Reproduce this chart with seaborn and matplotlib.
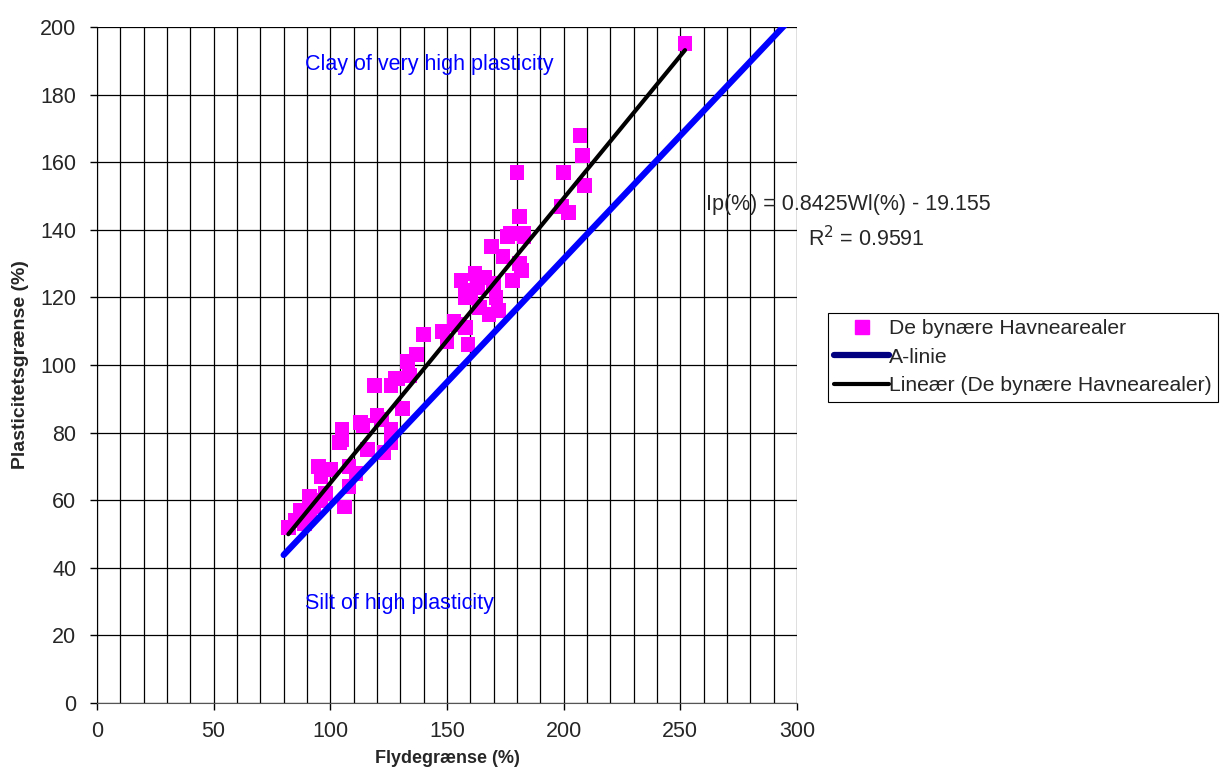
import numpy as np
import pandas as pd
import matplotlib
matplotlib.use('Agg')
import matplotlib.pyplot as plt
from matplotlib.lines import Line2D
from matplotlib.ticker import MultipleLocator
import seaborn as sns

# data
flydegraense = [252, 207, 208, 209, 200, 199, 202, 180, 181, 183, 176, 169, 174, 181, 182,
                178, 162, 156, 158, 170, 158, 164, 172, 168, 154, 148, 140, 158, 159, 150,
                137, 133, 134, 119, 126, 129, 131, 120, 113, 122, 126, 105, 105, 116, 126,
                114, 104, 123, 95, 100, 108, 111, 108, 96, 91, 98, 106, 87, 91, 82,
                89, 166, 160, 163, 171, 128, 85, 93, 96, 177, 183, 153]
plasticitet = [195, 168, 162, 153, 157, 147, 145, 157, 144, 139, 138, 135, 132, 130, 128,
               125, 127, 125, 122, 124, 120, 117, 116, 115, 112, 110, 109, 111, 106, 107,
               103, 101, 97, 94, 94, 96, 87, 85, 83, 84, 81, 81, 78, 75, 77,
               82, 77, 74, 70, 69, 70, 68, 64, 67, 61, 62, 58, 57, 56, 52,
               53, 126, 121, 123, 120, 96, 54, 58, 60, 139, 138, 113]

trend_slope = 0.8425
trend_intercept = -19.155
r2 = 0.9591

# A-line: Ip = 0.73 (wl - 20)
a_line_wl = [80, 300]
a_line_factor = 0.73
a_line_offset = 20

df = pd.DataFrame({'wl': flydegraense, 'ip': plasticitet})

sns.set_style('white')
plt.rcParams['font.family'] = ['Liberation Sans', 'DejaVu Sans']

fs = 15.5

fig = plt.figure(figsize=(12.2, 7.8), dpi=100)
ax = fig.add_axes([97 / 1220, 77 / 780, 700 / 1220, 676 / 780])

sns.scatterplot(data=df, x='wl', y='ip', marker='s', s=115, color='#FF00FF',
                edgecolor='none', linewidth=0, ax=ax, zorder=3, legend=False)

a_df = pd.DataFrame({'wl': a_line_wl})
a_df['ip'] = a_line_factor * (a_df['wl'] - a_line_offset)
sns.lineplot(data=a_df, x='wl', y='ip', color='#0000FF', linewidth=4.5, ax=ax,
             zorder=4, solid_capstyle='round')

t_df = pd.DataFrame({'wl': [df['wl'].min(), df['wl'].max()]})
t_df['ip'] = trend_slope * t_df['wl'] + trend_intercept
sns.lineplot(data=t_df, x='wl', y='ip', color='black', linewidth=3, ax=ax,
             zorder=5, solid_capstyle='round')

ax.set_xlim(0, 300)
ax.set_ylim(0, 200)
ax.xaxis.set_major_locator(MultipleLocator(50))
ax.xaxis.set_minor_locator(MultipleLocator(10))
ax.yaxis.set_major_locator(MultipleLocator(20))
ax.grid(which='minor', axis='x', color='black', linewidth=0.9)
ax.grid(which='major', axis='x', color='black', linewidth=0.9)
ax.grid(which='major', axis='y', color='black', linewidth=0.9)
ax.set_axisbelow(True)
ax.tick_params(which='major', direction='out', length=5, width=1, color='black',
               labelsize=fs, bottom=True, left=True)
ax.tick_params(axis='x', pad=8)
ax.tick_params(axis='y', pad=10)
ax.tick_params(which='minor', length=0)
for side in ['top', 'right']:
    ax.spines[side].set_visible(False)
ax.spines['left'].set_color('black')
ax.spines['bottom'].set_color('#555555')

ax.set_xlabel('Flydegrænse (%)', fontsize=13, fontweight='bold', labelpad=6)
ax.set_ylabel('Plasticitetsgrænse (%)', fontsize=14, fontweight='bold', labelpad=8)

ax.text(89, 189, 'Clay of very high plasticity', color='#0000FF', fontsize=fs,
        va='center', ha='left')
ax.text(89, 29.5, 'Silt of high plasticity', color='#0000FF', fontsize=fs,
        va='center', ha='left')
ax.text(261, 147.5, f'Ip(%) = {trend_slope}Wl(%) - {abs(trend_intercept)}', fontsize=fs,
        va='center', ha='left', clip_on=False, zorder=6)
ax.text(304.5, 137.3, f'R$^2$ = {r2}', fontsize=fs, va='center', ha='left',
        clip_on=False, zorder=6)

handles = [
    Line2D([], [], marker='s', linestyle='none', color='#FF00FF', markersize=10),
    Line2D([], [], color='#000080', linewidth=4.5, solid_capstyle='round'),
    Line2D([], [], color='black', linewidth=3, solid_capstyle='round'),
]
labels = ['De bynære Havnearealer', 'A-linie', 'Lineær (De bynære Havnearealer)']
leg = fig.legend(handles, labels, loc='upper left',
                 bbox_to_anchor=(828 / 1220, 1 - 313 / 780), fontsize=15.2,
                 frameon=True, fancybox=False, edgecolor='black', framealpha=1,
                 borderpad=0.3, handlelength=2.6, handletextpad=0.0,
                 labelspacing=0.45, borderaxespad=0)
leg.get_frame().set_linewidth(0.8)

fig.savefig('out.png', dpi=100)
